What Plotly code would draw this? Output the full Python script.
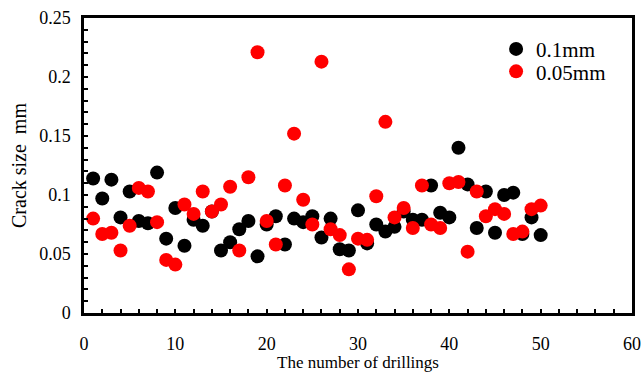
import plotly.graph_objects as go

drillings = list(range(1, 51))
crack_01mm = [0.114, 0.097, 0.113, 0.081, 0.103, 0.078, 0.076, 0.119, 0.063, 0.089,
              0.057, 0.079, 0.074, 0.086, 0.053, 0.060, 0.071, 0.078, 0.048, 0.075,
              0.082, 0.058, 0.080, 0.077, 0.082, 0.064, 0.080, 0.054, 0.053, 0.087,
              0.059, 0.075, 0.069, 0.073, 0.086, 0.079, 0.079, 0.108, 0.085, 0.081,
              0.140, 0.109, 0.072, 0.103, 0.068, 0.100, 0.102, 0.067, 0.081, 0.066]
crack_005mm = [0.080, 0.067, 0.068, 0.053, 0.074, 0.106, 0.103, 0.077, 0.045, 0.041,
               0.092, 0.084, 0.103, 0.086, 0.092, 0.107, 0.053, 0.115, 0.221, 0.078,
               0.058, 0.108, 0.152, 0.096, 0.075, 0.213, 0.071, 0.066, 0.037, 0.063,
               0.062, 0.099, 0.162, 0.081, 0.089, 0.072, 0.108, 0.075, 0.072, 0.110,
               0.111, 0.052, 0.103, 0.082, 0.088, 0.084, 0.067, 0.069, 0.088, 0.091]

x_title = "The number of drillings"
y_title = "Crack size\u00a0\u00a0mm"

font = "Times New Roman, Liberation Serif, serif"

fig = go.Figure()
fig.add_trace(go.Scatter(x=drillings, y=crack_01mm, mode="markers", name="0.1mm",
                         marker=dict(color="black", size=14), legend="legend"))
fig.add_trace(go.Scatter(x=drillings, y=crack_005mm, mode="markers", name="0.05mm",
                         marker=dict(color="#ff0000", size=14), legend="legend2"))

axis_common = dict(showline=True, linecolor="black", linewidth=2.5, mirror=True,
                   showgrid=False, zeroline=False, ticks="inside", tickcolor="black",
                   ticklen=4, tickwidth=1.5,
                   tickfont=dict(family=font, size=18, color="black"))

fig.update_xaxes(range=[0, 60], dtick=10, tick0=0, ticklabelstandoff=13,
                 minor=dict(ticks="inside", dtick=2, ticklen=4, tickcolor="black", tickwidth=1.5),
                 **axis_common)
fig.update_yaxes(range=[0, 0.25], dtick=0.05, tick0=0, ticklabelstandoff=7,
                 minor=dict(ticks="inside", dtick=0.01, ticklen=4, tickcolor="black", tickwidth=1.5),
                 title=dict(text=y_title, font=dict(family=font, size=20, color="black"),
                            standoff=8),
                 **axis_common)

fig.add_annotation(text=x_title, xref="paper", yref="paper", x=0.5, y=0,
                   xanchor="center", yanchor="top", yshift=-39, showarrow=False,
                   borderpad=0, font=dict(family=font, size=17, color="black"))

leg_common = dict(x=0.752, xanchor="left", yanchor="middle",
                  font=dict(family=font, size=21, color="black"),
                  bgcolor="rgba(0,0,0,0)", borderwidth=0)

fig.update_layout(
    width=643, height=372,
    margin=dict(l=84, r=11, t=18, b=59, autoexpand=False),
    plot_bgcolor="white", paper_bgcolor="white",
    legend=dict(y=0.894, **leg_common),
    legend2=dict(y=0.818, **leg_common),
    showlegend=True,
)

fig.write_html("out.html", config={"displayModeBar": False},
               post_script="document.body.style.margin='0';document.body.style.overflow='hidden';")
